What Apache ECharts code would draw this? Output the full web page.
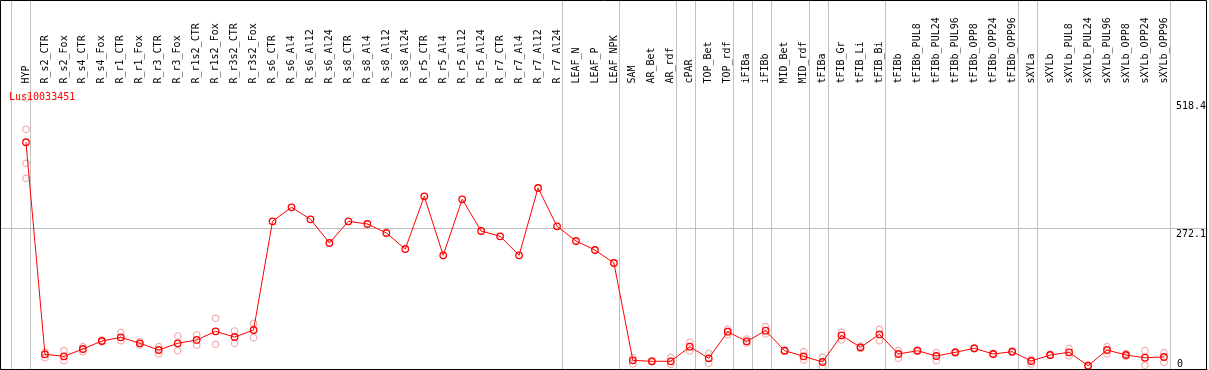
<!DOCTYPE html>
<html>
<head>
<meta charset="utf-8">
<script src="https://cdn.jsdelivr.net/npm/echarts@6/dist/echarts.min.js"></script>
<style>
html,body{margin:0;padding:0;background:#fff;}
#c{width:1209px;height:370px;}
</style>
</head>
<body>
<div id="c"></div>
<script>
// ---------------- data ----------------
const chartTitle = 'Lus10033451';

const categories = [
  'HYP','R_s2_CTR','R_s2_Fox','R_s4_CTR','R_s4_Fox','R_r1_CTR','R_r1_Fox','R_r3_CTR','R_r3_Fox',
  'R_r1s2_CTR','R_r1s2_Fox','R_r3s2_CTR','R_r3s2_Fox','R_s6_CTR','R_s6_Al4','R_s6_Al12','R_s6_Al24',
  'R_s8_CTR','R_s8_Al4','R_s8_Al12','R_s8_Al24','R_r5_CTR','R_r5_Al4','R_r5_Al12','R_r5_Al24',
  'R_r7_CTR','R_r7_Al4','R_r7_Al12','R_r7_Al24','LEAF_N','LEAF_P','LEAF_NPK','SAM','AR_Bet','AR_rdf',
  'cPAR','TOP_Bet','TOP_rdf','iFIBa','iFIBb','MID_Bet','MID_rdf','tFIBa','tFIB_Gr','tFIB_Li','tFIB_Bi',
  'tFIBb','tFIBb_PUL8','tFIBb_PUL24','tFIBb_PUL96','tFIBb_OPP8','tFIBb_OPP24','tFIBb_OPP96',
  'sXYLa','sXYLb','sXYLb_PUL8','sXYLb_PUL24','sXYLb_PUL96','sXYLb_OPP8','sXYLb_OPP24','sXYLb_OPP96'
];

// mean expression per sample (red line)
const meanValues = [
  437.9, 29.3, 25.4, 39.5, 54.9, 62.1, 50.5, 37.6, 50.5,
  56.9, 73.6, 62.6, 76.1, 285.6, 312.6, 289.5, 243.8,
  285.6, 280.4, 263.1, 232.2, 333.8, 220.1, 328.0, 266.9,
  256.7, 220.1, 349.8, 276.0, 247.6, 230.3, 205.2, 17.7, 15.8, 15.8,
  43.9, 21.6, 72.8, 54.3, 74.8, 36.2, 25.4, 14.5, 65.9, 42.8, 67.8,
  29.9, 36.2, 26.0, 33.1, 40.9, 29.9, 34.3,
  16.4, 27.9, 33.1, 7.3, 37.6, 27.9, 22.7, 24.1
];

// individual replicates (pink circles)
const repA = [
  523.2, 33.1, 36.2, 43.9, 56.5, 70.9, 53.6, 43.9, 64.6,
  66.5, 98.7, 74.2, 89.0, null, null, null, null,
  null, null, null, null, null, null, null, null,
  null, null, null, null, null, null, null, 22.7, 16.8, 23.5,
  52.4, 31.2, 77.5, 58.8, 82.5, 37.5, 34.3, 23.5, 71.7, 45.0, 77.5,
  36.2, 37.4, 32.4, 34.3, 42.0, 31.0, 35.5,
  19.7, 29.0, 40.1, 8.3, 43.9, 30.5, 36.2, 32.4
];
const repB = [
  462.9, 22.7, 17.0, 34.3, 53.3, 55.5, 47.2, 29.9, 36.2,
  47.2, 48.6, 50.5, 61.3, null, null, null, null,
  null, null, null, null, null, null, null, null,
  null, null, null, null, null, null, null, 10.6, 14.8, 10.0,
  35.7, 11.9, 67.1, 50.5, 68.4, 34.9, 18.3, 5.4, 56.9, 40.6, 55.5,
  21.6, 35.0, 17.0, 31.9, 39.8, 28.8, 33.1,
  10.6, 26.8, 26.0, 6.3, 29.9, 25.3, 8.1, 13.9
];
const repC = [397.4];
const repD = [368.5];

const yTickValues = [0, 272.1, 518.4];

// samples after which a grey separator is drawn
const groupEnds = ['HYP','R_r7_Al24','LEAF_NPK','AR_rdf','cPAR','TOP_rdf','iFIBa','iFIBb',
                   'MID_rdf','tFIBa','tFIB_Bi','tFIBb_OPP96','sXYLa','sXYLb_OPP96'];
const groupStart = 'HYP';

// ---------------- layout / style ----------------
const FONT = 'DejaVu Sans Mono';
const band = 19;
const dataLeft = 16.5;
const plotTop = 100.5;
const plotBottom = 369.5;
const headerLine = 85.5;
const boxLeft = 1, boxRight = 1207;
const idxAt = px => (px - dataLeft) / band - 0.5;
const RED = '#ff0000';
const PINK = '#eb9a9a';
const GREY = '#c0c0c0';

const repPoints = [];
[repA, repB, repC, repD].forEach(arr => arr.forEach((v, i) => { if (v != null) repPoints.push([i, v]); }));

const sepValues = [categories.indexOf(groupStart) - 0.78]
  .concat(groupEnds.map(c => categories.indexOf(c) + 0.24));

const chart = echarts.init(document.getElementById('c'), null, {renderer: 'canvas'});
const yMax = yTickValues[yTickValues.length - 1];
const yInt = yTickValues[1];

chart.setOption({
  animation: false,
  backgroundColor: '#fff',
  title: {
    text: chartTitle, left: 9, top: 92, padding: 0,
    textStyle: {color: RED, fontFamily: FONT, fontSize: 10, fontWeight: 'normal'}
  },
  grid: [
    {left: dataLeft, width: band * categories.length, top: plotTop, height: plotBottom - plotTop},
    {left: boxLeft, width: boxRight - boxLeft, top: plotTop, height: plotBottom - plotTop}
  ],
  xAxis: [
    {
      type: 'category', gridIndex: 0, data: categories, position: 'top',
      offset: plotTop - headerLine, boundaryGap: true,
      axisLine: {show: false}, axisTick: {show: false}, splitLine: {show: false},
      axisLabel: {interval: 0, rotate: 90, margin: 2, fontFamily: FONT, fontSize: 10, color: '#000'}
    },
    {
      type: 'value', gridIndex: 1, min: idxAt(boxLeft), max: idxAt(boxRight), position: 'top',
      offset: plotTop - headerLine,
      axisLine: {show: true, lineStyle: {color: '#000', width: 1}},
      axisTick: {show: false}, axisLabel: {show: false}, splitLine: {show: false}
    }
  ],
  yAxis: [
    {
      type: 'value', gridIndex: 0, position: 'right', min: 0, max: yMax, interval: yInt,
      axisLine: {show: false}, axisTick: {show: false}, splitLine: {show: false},
      axisLabel: {margin: 2.5, align: 'left', verticalAlign: 'top', padding: [1, 0, 0, 0],
        fontFamily: FONT, fontSize: 10, color: '#000',
        formatter: v => (Math.abs(v) < 1e-9 ? '' : String(Math.round(v * 10) / 10))}
    },
    {
      type: 'value', gridIndex: 0, position: 'right', min: 0, max: yMax, interval: yInt,
      axisLine: {show: false}, axisTick: {show: false}, splitLine: {show: false},
      axisLabel: {margin: 3.5, align: 'left', verticalAlign: 'bottom', fontFamily: FONT, fontSize: 10, color: '#000',
        formatter: v => (Math.abs(v) < 1e-9 ? '0' : '')}
    },
    {
      type: 'value', gridIndex: 1, min: 0, max: yMax, interval: yInt,
      axisLine: {show: false}, axisTick: {show: false}, axisLabel: {show: false},
      splitLine: {show: true, showMinLine: false, showMaxLine: false,
        lineStyle: {color: GREY, width: 1}}
    }
  ],
  series: [
    {
      type: 'custom', xAxisIndex: 1, yAxisIndex: 2, silent: true, z: 1, clip: false,
      data: sepValues.map(v => [v, 0]),
      renderItem: (params, api) => {
        const x = Math.floor(api.coord([api.value(0), 0])[0]) + 0.5;
        return {type: 'line', shape: {x1: x, y1: 0.5, x2: x, y2: 369}, style: {stroke: GREY, lineWidth: 1}};
      }
    },
    {
      type: 'scatter', xAxisIndex: 0, yAxisIndex: 0, data: repPoints, clip: false, z: 2, silent: true,
      symbol: 'circle', symbolSize: 6.5,
      itemStyle: {color: 'rgba(0,0,0,0)', borderColor: PINK, borderWidth: 1.2}
    },
    {
      type: 'line', xAxisIndex: 0, yAxisIndex: 0, data: meanValues, clip: false, z: 3, silent: true,
      symbol: 'circle', symbolSize: 6.5, showAllSymbol: true,
      lineStyle: {color: RED, width: 1},
      itemStyle: {color: 'rgba(0,0,0,0)', borderColor: RED, borderWidth: 1.3}
    }
  ],
  graphic: [
    {type: 'rect', silent: true, z: 100,
     shape: {x: 0.5, y: 0.5, width: boxRight - 1, height: plotBottom - 0.5},
     style: {fill: 'none', stroke: '#000', lineWidth: 1}}
  ]
});
</script>
</body>
</html>
